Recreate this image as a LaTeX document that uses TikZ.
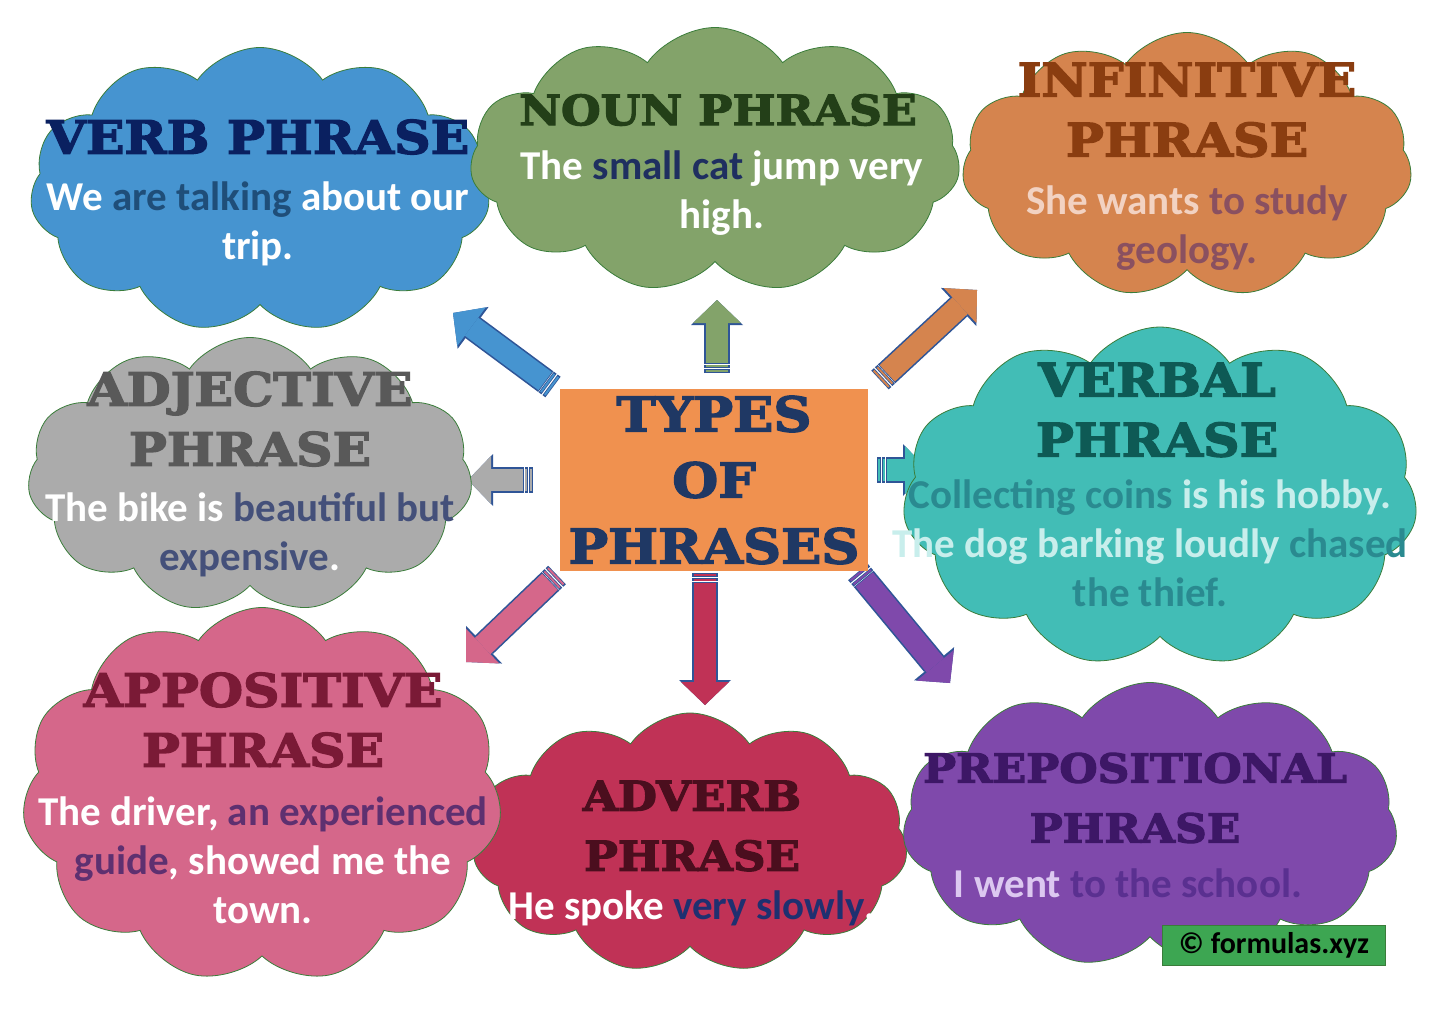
\documentclass[tikz,border=0pt]{standalone}
\usepackage{fontspec}
\setmainfont{Carlito}
\newfontfamily\headfont[FakeBold=3, FakeStretch=1.1]{DejaVu Serif}
\usetikzlibrary{shapes.symbols, arrows.meta, calc, positioning}

\definecolor{verbfill}{HTML}{4694D0}
\definecolor{nounfill}{HTML}{83A36A}
\definecolor{inffill}{HTML}{D5844E}
\definecolor{verbalfill}{HTML}{42BDB6}
\definecolor{adjfill}{HTML}{ABABAB}
\definecolor{appfill}{HTML}{D5678A}
\definecolor{advfill}{HTML}{C03256}
\definecolor{prepfill}{HTML}{7F49AB}
\definecolor{typesfill}{HTML}{F0914F}
\definecolor{navy}{HTML}{1F3864}
\definecolor{copyfill}{HTML}{3DA652}
\definecolor{cloudline}{HTML}{3A7D3A}
\definecolor{edgeblue}{HTML}{2F5597}
\definecolor{verbhead}{HTML}{0A2060}
\definecolor{nounhead}{HTML}{233F18}
\definecolor{infhead}{HTML}{8A3D10}
\definecolor{verbalhead}{HTML}{0E5A55}
\definecolor{adjhead}{HTML}{595959}
\definecolor{apphead}{HTML}{7A1A36}
\definecolor{advhead}{HTML}{4B0E1E}
\definecolor{prephead}{HTML}{3D1766}
\definecolor{verbword}{HTML}{1F4E79}
\definecolor{nounword}{HTML}{1F2F60}
\definecolor{infpale}{HTML}{F2D2C2}
\definecolor{infword}{HTML}{8A5060}
\definecolor{verbalword}{HTML}{2A8A90}
\definecolor{verbalpale}{HTML}{C8EEEC}
\definecolor{adjword}{HTML}{44507A}
\definecolor{appword}{HTML}{5E3070}
\definecolor{advword}{HTML}{1F3070}
\definecolor{preppale}{HTML}{DCC8F0}
\definecolor{prepword}{HTML}{5A3090}

\begin{document}
\begin{tikzpicture}[x=1pt, y=-1pt,
    puff/.style={cloud, cloud puffs=11, cloud puff arc=110, cloud ignores aspect,
      draw=cloudline, line width=0.8pt, inner sep=0pt},
    headtext/.style={align=center, font=\headfont\bfseries\fontsize{#1}{60}\selectfont},
    headtext/.default=46,
    bodytext/.style={align=center, font=\bfseries\fontsize{41}{49}\selectfont, text=white},
    blockedge/.style={line width=25.6pt, draw=edgeblue,
      -{Triangle[length=25pt, width=52pt, line width=0pt]}},
    blockfill/.style={line width=22.4pt, draw=#1,
      -{Triangle[length=23pt, width=48pt, line width=0pt]}},
    stripeedge/.style={line width=25.6pt, draw=edgeblue},
    stripefill/.style={line width=22.4pt, draw=#1},
    ]
    \useasboundingbox[fill=white] (0,0) rectangle (1445,1022);

    %Arrow ends
    \coordinate (upT) at (717,373);  \coordinate (upH) at (717,300);
    \coordinate (dnT) at (705,573);  \coordinate (dnH) at (705,705);
    \coordinate (ulT) at (553,387);  \coordinate (ulH) at (453,313);
    \coordinate (lfT) at (533,480);  \coordinate (lfH) at (468,480);
    \coordinate (llT) at (557,575);  \coordinate (llH) at (466,662);
    \coordinate (urT) at (880,380);  \coordinate (urH) at (977,290);
    \coordinate (rtT) at (877,470);  \coordinate (rtH) at (928,470);
    \coordinate (lrT) at (858,572);  \coordinate (lrH) at (950,683);

    %Arrows
    \foreach \t/\h/\c in {upT/upH/nounfill, dnT/dnH/advfill, ulT/ulH/verbfill,
        lfT/lfH/adjfill, llT/llH/appfill, urT/urH/inffill,
        rtT/rtH/verbalfill, lrT/lrH/prepfill}{
      \draw[blockedge] ($(\t)!9pt!(\h)$) -- (\h);
      \draw[blockfill=\c] ($(\t)!9.8pt!(\h)$) -- (\h);
      \draw[stripeedge] (\t) -- ($(\t)!3.6pt!(\h)$);
      \draw[stripefill=\c] ($(\t)!0.8pt!(\h)$) -- ($(\t)!2.8pt!(\h)$);
      \draw[stripeedge] ($(\t)!5pt!(\h)$) -- ($(\t)!8.4pt!(\h)$);
      \draw[stripefill=\c] ($(\t)!5.8pt!(\h)$) -- ($(\t)!7.6pt!(\h)$);
    }

    %Centre box
    \node[fill=typesfill, minimum width=308pt, minimum height=182pt] (types) at (714,480) {};
    \node[align=center, text=navy, font=\headfont\bfseries\fontsize{48}{66}\selectfont]
      (typestxt) at (types.center) {TYPES\\OF\\PHRASES};

    %Verb phrase
    \node[puff, fill=verbfill, minimum width=460pt, minimum height=285pt] (verb) at (260,190) {};
    \node[headtext, text=verbhead] (verbhd) at (258,137) {VERB PHRASE};
    \node[bodytext] (verbtx) at (258,224)
      {We \textcolor{verbword}{are talking} about our\\trip.};

    %Noun phrase
    \node[puff, fill=nounfill, minimum width=490pt, minimum height=265pt] (noun) at (715,160) {};
    \node[headtext=41.5, text=nounhead] (nounhd) at (718,110) {NOUN PHRASE};
    \node[bodytext] (nountx) at (722,193)
      {The \textcolor{nounword}{small cat} jump very\\high.};

    %Infinitive phrase
    \node[puff, fill=inffill, minimum width=450pt, minimum height=265pt] (inf) at (1187,165) {};
    \node[headtext, text=infhead] (infhd) at (1187,110) {INFINITIVE\\PHRASE};
    \node[bodytext, text=infword] (inftx) at (1187,228)
      {\textcolor{infpale}{She wants} to study\\geology.};

    %Adjective phrase
    \node[puff, fill=adjfill, minimum width=445pt, minimum height=275pt] (adj) at (250,475) {};
    \node[headtext, text=adjhead] (adjhd) at (250,419) {ADJECTIVE\\PHRASE};
    \node[bodytext] (adjtx) at (250,535)
      {The bike is \textcolor{adjword}{beautiful but}\\\textcolor{adjword}{expensive}.};

    %Verbal phrase
    \node[puff, fill=verbalfill, minimum width=515pt, minimum height=340pt] (verbal) at (1160,497) {};
    \node[headtext, text=verbalhead] (verbalhd) at (1157,410) {VERBAL\\PHRASE};
    \node[bodytext, text=verbalword] (verbaltx) at (1150,543)
      {Collecting coins \textcolor{verbalpale}{is his hobby.}\\
       \textcolor{verbalpale}{The dog barking loudly} chased\\the thief.};

    %Adverb phrase
    \node[puff, fill=advfill, minimum width=435pt, minimum height=260pt] (adv) at (690,843) {};
    \node[headtext=41, text=advhead] (advhd) at (692,826) {ADVERB\\PHRASE};
    \node[bodytext] (advtx) at (692,908) {He spoke \textcolor{advword}{very slowly}.};

    %Appositive phrase
    \node[puff, fill=appfill, minimum width=480pt, minimum height=375pt] (app) at (262,795) {};
    \node[headtext, text=apphead] (apphd) at (263,720) {APPOSITIVE\\PHRASE};
    \node[bodytext] (apptx) at (263,860)
      {The driver, \textcolor{appword}{an experienced}\\\textcolor{appword}{guide}, showed me the\\town.};

    %Prepositional phrase
    \node[puff, fill=prepfill, minimum width=495pt, minimum height=285pt] (prep) at (1150,825) {};
    \node[headtext=40, text=prephead] (prephd) at (1135,798) {PREPOSITIONAL\\PHRASE};
    \node[bodytext, text=prepword] (preptx) at (1128,883)
      {\textcolor{preppale}{I went} to the school.};

    %Credit
    \node[fill=copyfill, draw=cloudline, minimum width=223pt, minimum height=40pt,
      font=\bfseries\fontsize{30}{32}\selectfont] (credit) at (1274,945) {© formulas.xyz};
\end{tikzpicture}
\end{document}
